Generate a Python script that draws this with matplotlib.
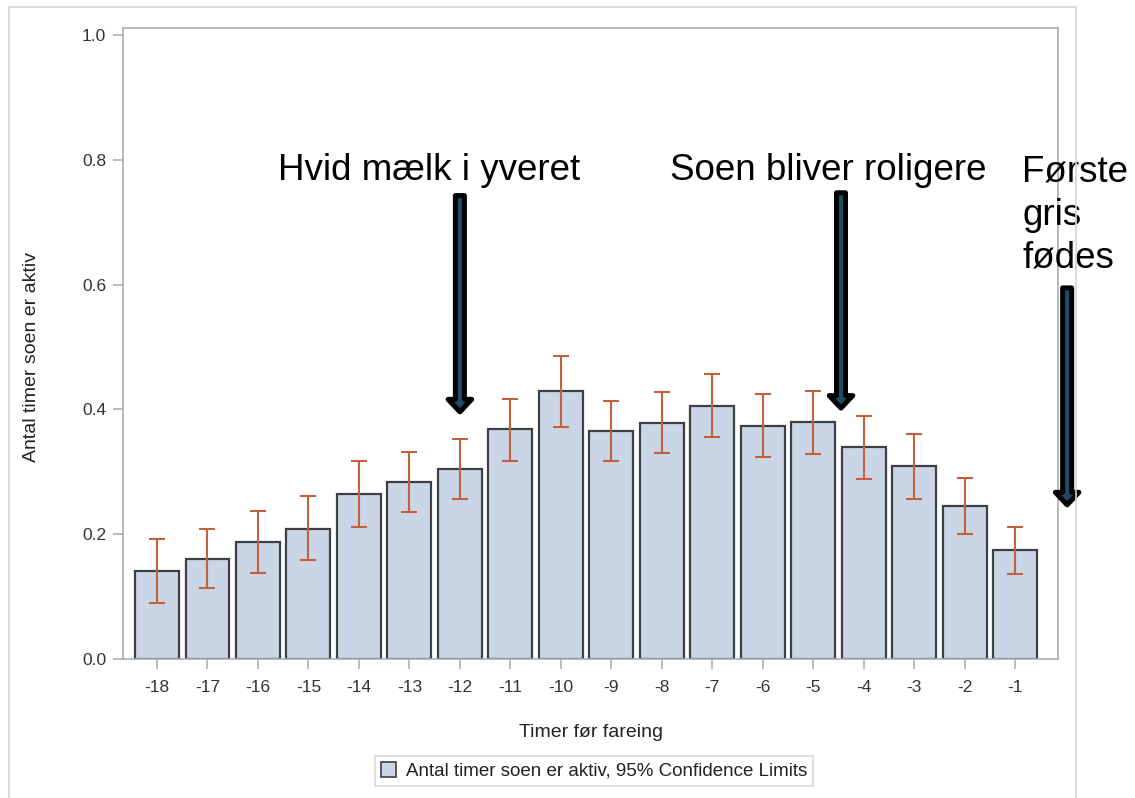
import numpy as np
import matplotlib.pyplot as plt
from matplotlib.patches import FancyArrowPatch, Patch, Rectangle

plt.rcParams['font.family'] = ['Liberation Sans', 'DejaVu Sans']
plt.rcParams['axes.unicode_minus'] = False

# Timer før fareing
hours = [-18, -17, -16, -15, -14, -13, -12, -11, -10, -9, -8, -7, -6, -5, -4, -3, -2, -1]
# mean active hours and 95% limits
mean = [0.141, 0.161, 0.188, 0.209, 0.264, 0.284, 0.305, 0.368, 0.429, 0.365,
        0.378, 0.406, 0.373, 0.379, 0.340, 0.309, 0.245, 0.174]
lower = [0.090, 0.113, 0.137, 0.159, 0.212, 0.236, 0.256, 0.317, 0.371, 0.317,
         0.330, 0.356, 0.323, 0.329, 0.288, 0.257, 0.201, 0.136]
upper = [0.192, 0.209, 0.237, 0.261, 0.317, 0.331, 0.353, 0.417, 0.486, 0.414,
         0.427, 0.457, 0.424, 0.430, 0.389, 0.360, 0.290, 0.211]

bar_color = '#cad5e5'
err_color = '#c4603a'
arrow_fill = '#1d4b68'

fig = plt.figure(figsize=(11.35, 7.98), dpi=100)
ax = fig.add_axes([0.1084, 0.1742, 0.8238, 0.7907])

x = np.array(hours)
m = np.array(mean)
yerr = [m - np.array(lower), np.array(upper) - m]

ax.bar(x, m, width=0.87, color=bar_color, edgecolor='#3c3f44', linewidth=1.6, zorder=2)
ax.errorbar(x, m, yerr=yerr, fmt='none', ecolor=err_color, elinewidth=1.5,
            capsize=6, capthick=1.5, zorder=3)

ax.set_xlim(-18.673, -0.15)
ax.set_ylim(0, 1.011)
ax.set_xticks(hours)
ax.set_yticks([0.0, 0.2, 0.4, 0.6, 0.8, 1.0])
ax.set_yticklabels(['0.0', '0.2', '0.4', '0.6', '0.8', '1.0'])

for s in ax.spines.values():
    s.set_color('#a9adb2')
    s.set_linewidth(1.2)
ax.tick_params(axis='both', colors='#b0b0b0', labelcolor='#333333', labelsize=12.5,
               length=7, width=1.2, pad=5)
ax.tick_params(axis='x', pad=8)

ax.set_xlabel('Timer før fareing', fontsize=14, color='#222222')
ax.set_ylabel('Antal timer soen er aktiv', fontsize=14, color='#222222')
ax.xaxis.set_label_coords(0.5, -0.103)
ax.yaxis.set_label_coords(-0.0888, 0.4786)

# annotations with arrows
ax.text(-15.6, 0.768, 'Hvid mælk i yveret', fontsize=26.5, color='black', va='baseline')
ax.text(-7.84, 0.768, 'Soen bliver roligere', fontsize=26.5, color='black', va='baseline')
ax.text(-0.86, 0.6266, 'Første\ngris\nfødes', fontsize=26.5, color='black',
        va='baseline', linespacing=1.3, clip_on=False)

style = 'simple,head_length=9,head_width=17,tail_width=6.5'
for ax_x, top, tip in [(-12.0, 0.7425, 0.396), (-4.45, 0.747, 0.402), (0.03, 0.5946, 0.247)]:
    arr = FancyArrowPatch((ax_x, top), (ax_x, tip), arrowstyle=style, mutation_scale=1,
                          shrinkA=0, shrinkB=0, facecolor=arrow_fill, edgecolor='black',
                          linewidth=3.6, clip_on=False, zorder=5)
    ax.add_patch(arr)

# light outer frame
fig.patches.append(Rectangle((9 / 1135, -0.02), (1076 - 9) / 1135, 1.02 - 7 / 798,
                             transform=fig.transFigure, fill=False,
                             edgecolor='#d4d4d4', linewidth=1.2))

handle = Patch(facecolor=bar_color, edgecolor='#3c3f44', linewidth=1.2)
leg = fig.legend([handle], ['Antal timer soen er aktiv, 95% Confidence Limits'],
                 loc='center', bbox_to_anchor=(0.5233, 0.0338), fontsize=13.5,
                 frameon=True, fancybox=False, edgecolor='#d0d0d0',
                 handlelength=0.8, handleheight=0.8, handletextpad=0.5,
                 borderpad=0.35, borderaxespad=0)
leg.get_frame().set_linewidth(1.2)
for t in leg.get_texts():
    t.set_color('#222222')

fig.savefig('out.png', dpi=100)
